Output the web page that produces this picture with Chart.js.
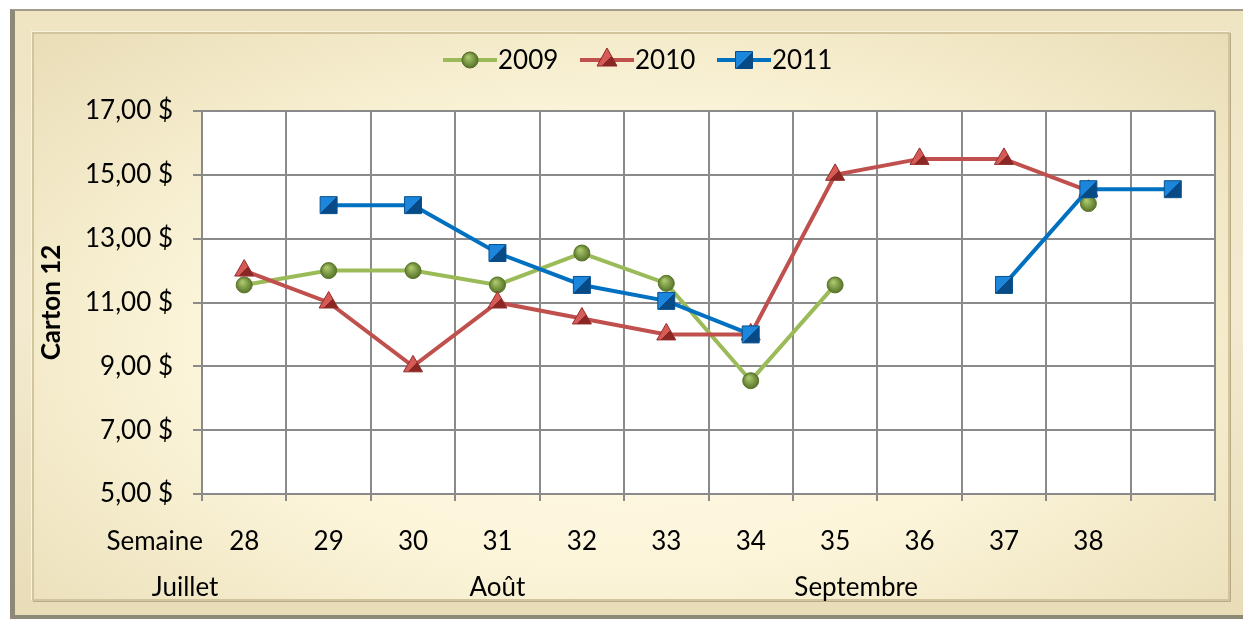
<!DOCTYPE html>
<html>
<head>
<meta charset="utf-8">
<title>Carton 12</title>
<script src="https://cdn.jsdelivr.net/npm/chart.js@4/dist/chart.umd.min.js"></script>
<style>
    html, body { margin: 0; padding: 0; background: #ffffff; }
    body { width: 1243px; height: 620px; position: relative; overflow: hidden; }
    #frame {
        position: absolute; left: 10px; top: 9px; width: 1245px; height: 610px;
        box-sizing: border-box;
        border-left: 5px solid #8e8877;
        border-top: 2px solid #a29c89;
        border-bottom: 4px solid #8e8877;
        background: linear-gradient(to bottom, #efe5c3 0%, #f3ead0 50%, #e9ddb8 100%);
    }
    #panel {
        position: absolute; left: 32px; top: 32px; width: 1198px; height: 569px;
        box-sizing: border-box;
        border: 2px solid #d2c49c;
        box-shadow: -1px -1px 0 #fbf4dc, 1px 1px 0 #b9ab85;
        background: radial-gradient(ellipse at 50% 55%, #fffbe8 0%, #fcf5da 50%, #e9ddb6 100%);
    }
    #salesChart { position: absolute; left: 0; top: 0; }
</style>
</head>
<body>
<div id="frame"></div>
<div id="panel"></div>
<canvas id="salesChart" width="1243" height="620"></canvas>
<script>
// --- data ---
var weeks = ['28', '29', '30', '31', '32', '33', '34', '35', '36', '37', '38', ''];
var prices2009 = [11.55, 12.0, 12.0, 11.55, 12.55, 11.6, 8.55, 11.55, null, null, 14.1, null];
var prices2010 = [12.0, 11.0, 9.0, 11.0, 10.5, 10.0, 10.0, 15.0, 15.5, 15.5, 14.5, null];
var prices2011 = [null, 14.05, 14.05, 12.55, 11.55, 11.05, 10.0, null, null, 11.55, 14.55, 14.55];
var yTicks = [5, 7, 9, 11, 13, 15, 17];
var months = ['Juillet', 'Août', 'Septembre'];
var monthPos = [-0.7, 3.0, 7.25]; // position along the week axis (index)

var FONT = 'Lato';
var FSIZE = 26;

// marker colours: light / dark for the shaded look
var shades = {
    circle: ['#a9c66a', '#4f6b22'],
    triangle: ['#d65a56', '#8a2724'],
    rect: ['#1b86dc', '#074a86']
};

function fmtPrice(v) {
    return v.toFixed(2).replace('.', ',') + ' $';
}

function makeShade(ctx, style, x, y) {
    var c = shades[style];
    var g;
    if (style === 'circle') {
        g = ctx.createRadialGradient(x - 2, y - 3, 1, x, y, 9);
        g.addColorStop(0, c[0]);
        g.addColorStop(1, c[1]);
    } else {
        g = ctx.createLinearGradient(x - 8, y - 8, x + 8, y + 8);
        g.addColorStop(0, c[0]);
        g.addColorStop(0.5, c[0]);
        g.addColorStop(0.5, c[1]);
        g.addColorStop(1, c[1]);
    }
    return g;
}

// scriptable point fill: gradient placed on the point itself
function pointFill(style) {
    return function(context) {
        var chart = context.chart;
        if (!chart.chartArea || context.raw == null || context.dataIndex == null) return shades[style][1];
        var x = chart.scales.x.getPixelForValue(context.dataIndex);
        var y = chart.scales.y.getPixelForValue(context.raw);
        return makeShade(chart.ctx, style, x, y);
    };
}

// legend marker
function drawMarker(ctx, style, x, y) {
    ctx.save();
    ctx.fillStyle = makeShade(ctx, style, x, y);
    ctx.strokeStyle = shades[style][1];
    ctx.lineWidth = 1;
    ctx.beginPath();
    if (style === 'circle') {
        ctx.arc(x, y, 8, 0, Math.PI * 2);
    } else if (style === 'triangle') {
        ctx.moveTo(x, y - 12);
        ctx.lineTo(x + 10, y + 6);
        ctx.lineTo(x - 10, y + 6);
        ctx.closePath();
    } else {
        ctx.rect(x - 8.5, y - 8.5, 17, 17);
    }
    ctx.fill();
    ctx.stroke();
    ctx.restore();
}

var extrasPlugin = {
    id: 'extras',
    beforeDraw: function(chart) {
        var ctx = chart.ctx;
        var a = chart.chartArea;
        ctx.save();
        ctx.fillStyle = '#ffffff';
        ctx.fillRect(a.left, a.top, a.right - a.left, a.bottom - a.top);
        ctx.restore();
    },
    afterDraw: function(chart) {
        var ctx = chart.ctx;
        var x = chart.scales.x;
        ctx.save();
        ctx.fillStyle = '#000000';
        ctx.font = FSIZE + 'px ' + FONT;
        ctx.textBaseline = 'middle';

        // first level label
        ctx.textAlign = 'right';
        ctx.fillText('Semaine', 203, 542);

        // month groups
        ctx.textAlign = 'center';
        for (var i = 0; i < months.length; i++) {
            ctx.fillText(months[i], x.getPixelForValue(monthPos[i]), 588);
        }

        // legend: line + marker, like the spreadsheet
        var items = chart.data.datasets.slice().sort(function(p, q) { return p.legendIndex - q.legendIndex; });
        var lx = 443;
        ctx.textAlign = 'left';
        items.forEach(function(ds) {
            ctx.strokeStyle = ds.borderColor;
            ctx.lineWidth = 4;
            ctx.beginPath();
            ctx.moveTo(lx, 60);
            ctx.lineTo(lx + 54, 60);
            ctx.stroke();
            drawMarker(ctx, ds.pointStyle, lx + 27, 60);
            ctx.fillStyle = '#000000';
            ctx.fillText(ds.label, lx + 55, 61);
            lx += 137;
        });
        ctx.restore();
    }
};

var ctx = document.getElementById('salesChart').getContext('2d');
var salesChart = new Chart(ctx, {
    type: 'line',
    data: {
        labels: weeks,
        datasets: [{
            label: '2009',
            data: prices2009,
            legendIndex: 0,
            order: 2,
            borderColor: '#9bbb59',
            borderWidth: 4,
            pointStyle: 'circle',
            pointRadius: 8,
            pointBackgroundColor: pointFill('circle'),
            pointBorderColor: '#5a7529',
            pointBorderWidth: 1,
            spanGaps: false
        }, {
            label: '2010',
            data: prices2010,
            legendIndex: 1,
            order: 1,
            borderColor: '#c0504d',
            borderWidth: 4,
            pointStyle: 'triangle',
            pointRadius: 11,
            pointBackgroundColor: pointFill('triangle'),
            pointBorderColor: '#912e2b',
            pointBorderWidth: 1,
            spanGaps: false
        }, {
            label: '2011',
            data: prices2011,
            legendIndex: 2,
            order: 0,
            borderColor: '#0070c0',
            borderWidth: 4,
            pointStyle: 'rect',
            pointRadius: 12,
            pointBackgroundColor: pointFill('rect'),
            pointBorderColor: '#07508e',
            pointBorderWidth: 1,
            spanGaps: false
        }]
    },
    options: {
        responsive: false,
        animation: false,
        layout: {
            padding: { top: 111, left: 0, right: 28, bottom: 0 }
        },
        elements: {
            line: { tension: 0 }
        },
        plugins: {
            legend: { display: false },
            title: { display: false },
            tooltip: { enabled: false }
        },
        scales: {
            x: {
                type: 'category',
                offset: true,
                afterFit: function(scale) { scale.height = 126; },
                grid: {
                    offset: true,
                    color: '#8a8a8a',
                    lineWidth: 2,
                    tickLength: 7
                },
                border: { color: '#8a8a8a', width: 2 },
                ticks: {
                    color: '#000000',
                    font: { family: FONT, size: FSIZE },
                    padding: 25,
                    maxRotation: 0,
                    autoSkip: false
                }
            },
            y: {
                min: 5,
                max: 17,
                afterFit: function(scale) { scale.width = 202; },
                afterBuildTicks: function(scale) {
                    scale.ticks = yTicks.map(function(v) { return { value: v }; });
                },
                grid: {
                    color: '#8a8a8a',
                    lineWidth: 2,
                    tickLength: 9
                },
                border: { color: '#8a8a8a', width: 2 },
                title: {
                    display: true,
                    text: 'Carton 12',
                    color: '#000000',
                    font: { family: FONT, size: FSIZE, weight: 'bold' },
                    padding: { top: 36, bottom: 0 }
                },
                ticks: {
                    color: '#000000',
                    font: { family: FONT, size: FSIZE },
                    padding: 20,
                    callback: function(value) { return fmtPrice(value); }
                }
            }
        }
    },
    plugins: [extrasPlugin]
});
</script>
</body>
</html>
